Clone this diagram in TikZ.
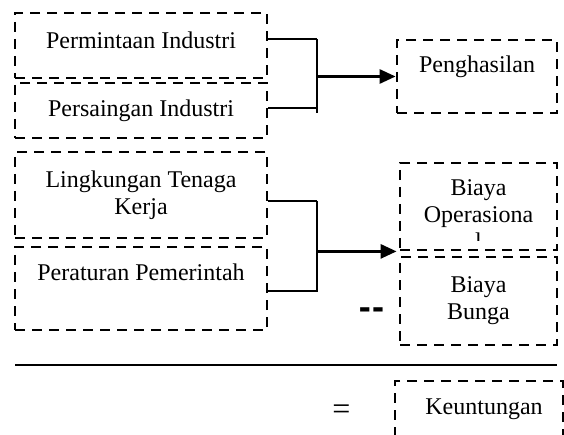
\documentclass[tikz,border=0pt]{standalone}
\usepackage{fontspec}
\setmainfont{Liberation Serif}
\newfontfamily\dashfont{DejaVu Sans}
\usetikzlibrary{arrows.meta}

\tikzset{
  box/.style={draw, line width=2.8pt, dash pattern=on 10pt off 7pt, align=center, inner sep=0pt, font=\fontsize{24}{27}\selectfont},
  link/.style={line width=2pt},
  bar/.style={line width=2.8pt},
  tip/.style={-{Triangle[length=16pt,width=14pt]}},
}

\begin{document}
\begin{tikzpicture}[x=1pt, y=-1pt]
        \useasboundingbox (0,0) rectangle (564,435);
        % left column
        \node [box, minimum width=252pt, minimum height=65pt, text depth=11pt] (perm) at (141,45.5) {Permintaan Industri};
        \node [box, minimum width=252pt, minimum height=55pt] (saing) at (141,110.5) {Persaingan Industri};
        \node [box, minimum width=252pt, minimum height=86pt] (lingk) at (141,195) {Lingkungan Tenaga\\Kerja};
        \node [box, minimum width=252pt, minimum height=83pt, text depth=33pt] (atur) at (141,288.5) {Peraturan Pemerintah};
        % right column
        \node [box, minimum width=160pt, minimum height=73pt, text depth=24pt] (hasil) at (477,76.5) {Penghasilan};
        \node [box, minimum width=157pt, minimum height=87pt] (opr) at (478.5,206.5) {};
        \begin{scope}
            \clip (400,163) rectangle (557,241);
            \node [align=center, inner sep=0pt, font=\fontsize{24}{27}\selectfont] (oprtext) at (478.5,215) {Biaya\\Operasiona\\l};
        \end{scope}
        \node [box, minimum width=157pt, minimum height=88pt] (bunga) at (478.5,301) {Biaya\\Bunga};
        \node [box, minimum width=168pt, minimum height=60pt, text depth=8pt] (untung) at (479,411) {\hspace*{10pt}Keuntungan};
        % first bracket
        \coordinate (j1a) at (317,39);
        \coordinate (j1b) at (317,108);
        \draw [link] (j1a -| perm.east) -- (j1a);
        \draw [link] (j1b -| saing.east) -- (j1b);
        \draw [bar] (j1a) -- ++(0,74);
        \draw [bar, tip] (j1a |- hasil.west) -- (hasil.west);
        % second bracket
        \coordinate (j2a) at (317,201);
        \coordinate (j2b) at (317,291);
        \draw [link] (j2a -| lingk.east) -- (j2a);
        \draw [link] (j2b -| atur.east) -- (j2b);
        \draw [bar] (j2a) -- ++(0,91);
        \draw [bar, tip] (j2a |- opr.south west) -- ([xshift=-2pt]opr.south west);
        % sum
        \node [inner sep=0pt, font=\fontsize{30}{30}\dashfont\bfseries] (minus) at (371.5,313) {-\kern1pt-};
        \coordinate (ruleL) at (15,365);
        \coordinate (ruleR) at (557,365);
        \draw [line width=2.8pt] (ruleL) -- (ruleR);
        \node [inner sep=0pt, font=\fontsize{32}{32}\selectfont] (equal) at (341.5,412.5) {=};
\end{tikzpicture}
\end{document}
